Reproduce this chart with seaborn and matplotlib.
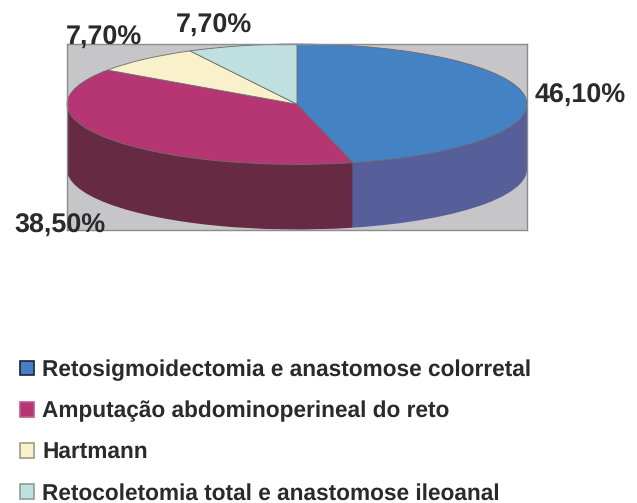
"""Extruded pie of surgical procedures, rebuilt by stacking seaborn-styled pies."""

import matplotlib

matplotlib.use("Agg")
from matplotlib.patches import Patch
import matplotlib.pyplot as plt
import numpy as np
import seaborn as sns

# data
PROCEDURES = [
    "Retosigmoidectomia e anastomose colorretal",
    "Amputação abdominoperineal do reto",
    "Hartmann",
    "Retocoletomia total e anastomose ileoanal",
]
SHARES = [46.1, 38.5, 7.7, 7.7]
SHARE_LABELS = ["46,10%", "38,50%", "7,70%", "7,70%"]

TOP_COLORS = ["#4482c3", "#b63573", "#f8f1cb", "#bfe0de"]
SIDE_COLORS = ["#575f9b", "#672a43", "#b5ae8c", "#8aa8a6"]
LEGEND_EDGES = ["#1c2433", "#c45a8e", "#9c9c88", "#8a9c9c"]

WIDTH, HEIGHT = 637, 503
DEPTH = 1.08  # pie thickness, in units of the squashed radius
LAYERS = 66

# label anchor (left, vertical centre) in image pixels
LABEL_POS = [(535, 96), (14, 225.5), (176, 26), (66, 38)]

sns.set_theme(style="white")
plt.rcParams["font.family"] = ["Liberation Sans", "DejaVu Sans"]
plt.rcParams["text.hinting"] = "no_hinting"

fig = plt.figure(figsize=(WIDTH / 100, HEIGHT / 100), dpi=100, facecolor="white")
ax = fig.add_axes([67 / WIDTH, 1 - 229.5 / HEIGHT, 460 / WIDTH, 185.5 / HEIGHT])

# side wall: same pie repeated from the bottom up
for offset in np.linspace(DEPTH, 0, LAYERS):
    ax.pie(
        SHARES,
        colors=SIDE_COLORS,
        startangle=90,
        counterclock=False,
        center=(0, -offset),
        wedgeprops=dict(linewidth=0),
    )

# top face
ax.pie(
    SHARES,
    colors=TOP_COLORS,
    startangle=90,
    counterclock=False,
    wedgeprops=dict(linewidth=0.6, edgecolor="#6e6e72"),
)

ax.set_aspect("auto")
ax.set_xlim(-1, 1)
ax.set_ylim(-1 - DEPTH, 1)
ax.set_frame_on(True)
ax.set_facecolor("#c6c6c8")
for spine in ax.spines.values():
    spine.set_color("#8c8c90")
    spine.set_linewidth(1)

for text, (px, py) in zip(SHARE_LABELS, LABEL_POS):
    fig.text(
        px / WIDTH,
        1 - py / HEIGHT,
        text,
        fontsize=19.4,
        fontweight="bold",
        color="#2a2a2a",
        ha="left",
        va="center",
    )

handles = [
    Patch(facecolor=c, edgecolor=e, linewidth=1.2)
    for c, e in zip(TOP_COLORS, LEGEND_EDGES)
]
fig.legend(
    handles,
    PROCEDURES,
    loc="upper left",
    bbox_to_anchor=(18 / WIDTH, 1 - 357 / HEIGHT),
    frameon=False,
    prop=dict(family="Liberation Sans", weight="bold", size=16.3),
    labelcolor="#2a2a2a",
    handlelength=0.62,
    handleheight=0.62,
    handletextpad=0.34,
    labelspacing=0.87,
    borderpad=0.1,
    borderaxespad=0,
)

fig.savefig("out.png", dpi=100)
